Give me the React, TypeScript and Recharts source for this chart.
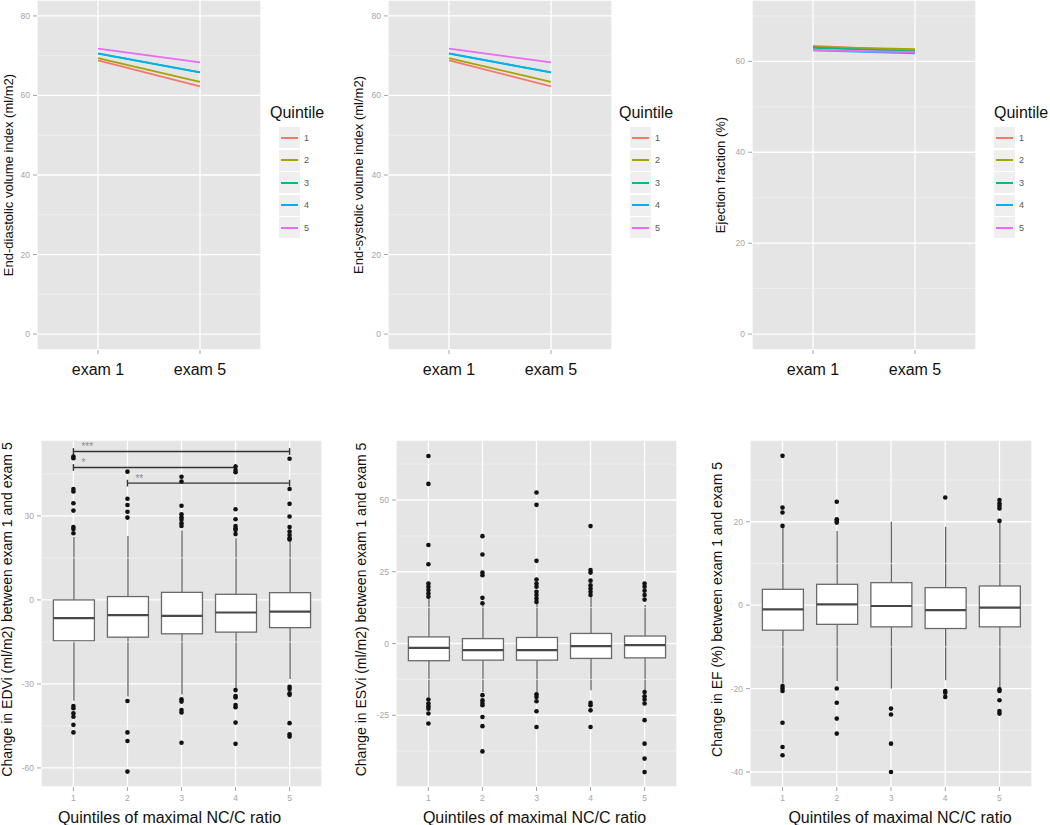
import React from 'react';
import {
  LineChart, Line, XAxis, YAxis, CartesianGrid, ReferenceLine, Legend,
  ComposedChart, Bar, Scatter,
} from 'recharts';

const FONT = '"Liberation Sans", Arial, Helvetica, sans-serif';

// ---------- shared categories ----------
const quintiles = ['1', '2', '3', '4', '5'];
const quintileColors = ['#F8766D', '#A3A500', '#00BF7D', '#00B0F6', '#E76BF3'];
const exams = ['exam 1', 'exam 5'];

// ---------- top row: mean values by quintile ----------
const edviExam1 = [68.8, 69.4, 70.5, 70.6, 71.8];
const edviExam5 = [62.3, 63.4, 65.8, 65.8, 68.3];
const esviExam1 = [68.8, 69.4, 70.5, 70.6, 71.8];
const esviExam5 = [62.3, 63.4, 65.8, 65.8, 68.3];
const efExam1 = [63.4, 63.2, 63.0, 62.4, 62.5];
const efExam5 = [62.35, 62.7, 62.2, 61.75, 62.0];

const volTicks = [0, 20, 40, 60, 80];
const volMinor = [10, 30, 50, 70];
const efTicks = [0, 20, 40, 60];
const efMinor = [10, 30, 50, 70];

// ---------- bottom row: box plot statistics ----------
const edviLo = [-36.0, -34.5, -33.8, -31.5, -28.2];
const edviQ1 = [-14.6, -13.3, -12.1, -11.5, -9.9];
const edviMed = [-6.5, -5.4, -5.7, -4.5, -4.2];
const edviQ3 = [0.0, 1.2, 2.7, 2.0, 2.6];
const edviHi = [22.5, 22.8, 24.8, 22.0, 21.2];
const edviOutliers = [
  [51.2, 50.6, 39.6, 38.7, 34.5, 31.9, 26.0, 25.3, 23.8, -37.9, -38.7, -40.5, -41.7, -44.6, -47.3],
  [45.8, 36.1, 33.9, 31.5, 29.4, -36.1, -47.3, -50.4, -61.3],
  [44.0, 42.3, 33.6, 30.6, 29.5, 28.6, 27.4, 26.4, -35.5, -36.3, -39.3, -40.2, -51.0],
  [47.6, 46.4, 45.6, 32.4, 28.8, 26.4, 25.6, 25.0, 23.5, -32.2, -34.3, -34.8, -37.5, -38.3, -43.8, -51.4],
  [50.4, 39.6, 34.3, 29.8, 26.0, 24.4, 23.2, 22.0, 21.6, -31.0, -31.8, -33.3, -33.9, -44.0, -48.0, -48.8],
];
const edviTicks = [-60, -30, 0, 30];
const edviMinor = [-45, -15, 15, 45];

const bracketFrom = [1, 1, 2];
const bracketTo = [5, 4, 5];
const bracketY = [53.0, 47.3, 41.7];
const bracketLabels = ['***', '*', '**'];

const esviLo = [-18.6, -16.9, -16.9, -16.3, -16.3];
const esviQ1 = [-6.0, -5.8, -5.8, -5.2, -5.0];
const esviMed = [-1.5, -2.3, -2.3, -0.9, -0.6];
const esviQ3 = [2.3, 1.7, 2.1, 3.5, 2.6];
const esviHi = [15.5, 13.4, 14.0, 16.5, 13.4];
const esviOutliers = [
  [65.3, 55.6, 34.3, 27.6, 20.9, 19.8, 18.6, 17.4, 16.3, -19.5, -20.9, -21.9, -22.7, -24.4, -27.9],
  [37.4, 31.0, 24.7, 23.8, 15.9, 14.0, -18.0, -19.8, -20.7, -21.5, -25.6, -28.8, -37.6],
  [52.6, 48.3, 28.8, 22.3, 20.9, 19.8, 18.0, 16.9, 15.7, 14.5, -17.7, -18.6, -20.1, -23.6, -29.1],
  [40.9, 25.6, 24.7, 21.9, 20.3, 19.2, 18.0, 16.9, -20.7, -21.5, -23.3, -29.1],
  [20.9, 19.8, 18.4, 16.9, 15.3, -16.9, -18.4, -19.5, -20.9, -26.7, -34.9, -40.1, -44.8],
];
const esviTicks = [-25, 0, 25, 50];
const esviMinor = [-37.5, -12.5, 12.5, 37.5, 62.5];

const efLo = [-18.8, -18.2, -20.0, -18.0, -20.0];
const efQ1 = [-6.0, -4.6, -5.2, -5.6, -5.2];
const efMed = [-1.0, 0.2, -0.2, -1.2, -0.6];
const efQ3 = [3.8, 5.0, 5.4, 4.2, 4.6];
const efHi = [18.5, 17.8, 20.0, 18.8, 20.0];
const efOutliers = [
  [35.8, 23.4, 22.2, 19.0, -19.4, -20.0, -20.6, -28.2, -34.0, -36.0],
  [24.8, 20.6, 20.2, 19.8, -20.0, -23.4, -27.2, -30.8],
  [-24.8, -26.2, -33.2, -40.0],
  [25.8, -20.6, -21.0, -22.0],
  [25.2, 24.4, 23.8, 23.2, 20.2, -20.2, -20.6, -22.8, -25.4, -26.0],
];
const efBoxTicks = [-40, -20, 0, 20];
const efBoxMinor = [-30, -10, 10, 30];

// ---------- helpers to build tables ----------
function lineRows(e1: number[], e5: number[]) {
  return exams.map((exam, k) => {
    const row: any = { exam };
    quintiles.forEach((q, i) => {
      row['q' + q] = (k === 0 ? e1 : e5)[i];
    });
    return row;
  });
}
function boxRows(lo: number[], q1: number[], med: number[], q3: number[], hi: number[]) {
  return quintiles.map((q, i) => ({ q: Number(q), lo: lo[i], q1: q1[i], med: med[i], q3: q3[i], hi: hi[i] }));
}
function outlierRows(out: number[][]) {
  const rows: any[] = [];
  out.forEach((arr, i) => arr.forEach((v) => rows.push({ q: Number(quintiles[i]), v })));
  return rows;
}

// ---------- styles ----------
const PANEL_BG = '#E5E5E5';
const MINOR = '#F2F2F2';
const TICK_GREY = '#a6a6a6';

function YLabel(props: any) {
  const { viewBox, text, dx, dy = 0, size } = props;
  if (!viewBox) return null;
  const cx = viewBox.x + dx;
  const cy = viewBox.y + viewBox.height / 2 + dy;
  return (
    <text x={cx} y={cy} transform={`rotate(-90 ${cx} ${cy})`} textAnchor="middle"
      dominantBaseline="central" fontSize={size} fill="#111" fontFamily={FONT}>{text}</text>
  );
}
function XLabel(props: any) {
  const { viewBox, text, dx = 0, baseline, size } = props;
  if (!viewBox) return null;
  return (
    <text x={viewBox.x + viewBox.width / 2 + dx} y={viewBox.y + baseline} textAnchor="middle"
      fontSize={size} fill="#111" fontFamily={FONT}>{text}</text>
  );
}
function BracketLabel(props: any) {
  const { viewBox, text } = props;
  if (!viewBox) return null;
  return (
    <text x={viewBox.x + 8} y={viewBox.y - 1.5} fontSize={10} fill="#8a8a8a" fontFamily={FONT}>{text}</text>
  );
}

function QuintileLegend({ indent }: { indent: number }) {
  return (
    <div style={{ fontFamily: FONT }}>
      <div style={{ fontSize: 16, lineHeight: '18px', color: '#111', marginBottom: 5, whiteSpace: 'nowrap' }}>Quintile</div>
      {quintiles.map((q, i) => (
        <div key={q} style={{ display: 'flex', alignItems: 'center', height: 21, marginBottom: 1.5, marginLeft: indent }}>
          <div style={{ width: 21, height: 21, background: '#EFEFEF', position: 'relative' }}>
            <div style={{ position: 'absolute', left: 2, right: 2, top: 9.5, height: 2, background: quintileColors[i] }} />
          </div>
          <span style={{ fontSize: 9, color: '#555', marginLeft: 4 }}>{q}</span>
        </div>
      ))}
    </div>
  );
}

function BoxShape(props: any) {
  const { x, y, width, height, payload } = props;
  if (!payload || x == null || y == null) return null;
  const top = Math.min(y, y + height);
  const h = Math.abs(height);
  const span = payload.hi - payload.lo;
  const toPx = (v: number) => top + (h * (payload.hi - v)) / span;
  const cx = x + width / 2;
  const yQ3 = toPx(payload.q3);
  const yQ1 = toPx(payload.q1);
  const yMed = toPx(payload.med);
  return (
    <g>
      <line x1={cx} x2={cx} y1={toPx(payload.hi)} y2={toPx(payload.lo)} stroke="#666" strokeWidth={1.3} />
      <rect x={x} y={yQ3} width={width} height={yQ1 - yQ3} fill="#fff" stroke="#6a6a6a" strokeWidth={1.3} />
      <line x1={x} x2={x + width} y1={yMed} y2={yMed} stroke="#484848" strokeWidth={2.2} />
    </g>
  );
}

function OutlierDot(props: any) {
  const { cx, cy } = props;
  if (cx == null || cy == null) return null;
  return <circle cx={cx} cy={cy} r={2.3} fill="#111" />;
}

// ---------- top panel ----------
function TopPanel(p: {
  left: number; width: number; yAxisWidth: number; rightMargin: number;
  e1: number[]; e5: number[]; domain: [number, number]; ticks: number[]; minor: number[];
  yLabel: string; yLabelDx: number; legendLeft: number; legendIndent: number;
}) {
  const data = lineRows(p.e1, p.e5);
  return (
    <div style={{ position: 'absolute', left: p.left, top: 0 }}>
      <LineChart width={p.width} height={400} data={data}
        margin={{ top: 0, right: p.rightMargin, bottom: 0, left: 0 }}>
        <CartesianGrid fill={PANEL_BG} stroke="#fff" strokeWidth={1.3} />
        {p.minor.map((m) => (
          <ReferenceLine key={'m' + m} y={m} stroke={MINOR} strokeWidth={0.8} />
        ))}
        <XAxis dataKey="exam" type="category" scale="point" padding={{ left: 61, right: 61 }}
          height={50} axisLine={false} tickSize={4} tickMargin={10}
          tickLine={{ stroke: TICK_GREY }}
          tick={{ fontSize: 16, fill: '#111', fontFamily: FONT }} />
        <YAxis type="number" domain={p.domain} ticks={p.ticks} allowDataOverflow width={p.yAxisWidth}
          axisLine={false} tickSize={4} tickMargin={3} tickLine={{ stroke: TICK_GREY }}
          tick={{ fontSize: 8.5, fill: TICK_GREY, fontFamily: FONT }}
          label={<YLabel text={p.yLabel} dx={p.yLabelDx} size={13} />} />
        {quintiles.map((q, i) => (
          <Line key={q} dataKey={'q' + q} name={q} stroke={quintileColors[i]} strokeWidth={1.8}
            dot={false} isAnimationActive={false} />
        ))}
        <Legend layout="vertical" align="center" verticalAlign="middle"
          wrapperStyle={{ left: p.legendLeft, top: 104, width: 80, height: 'auto' }}
          content={() => <QuintileLegend indent={p.legendIndent} />} />
      </LineChart>
    </div>
  );
}

// ---------- bottom panel ----------
function BoxPanel(p: {
  left: number; width: number; yAxisWidth: number; rightMargin: number;
  rows: any[]; outliers: any[]; domain: [number, number]; ticks: number[]; minor: number[];
  yLabel: string; yLabelDx: number; xLabelDx: number; brackets?: boolean;
}) {
  return (
    <div style={{ position: 'absolute', left: p.left, top: 420 }}>
      <ComposedChart width={p.width} height={405} data={p.rows}
        margin={{ top: 20, right: p.rightMargin, bottom: 0, left: 0 }}>
        <CartesianGrid fill={PANEL_BG} stroke="#fff" strokeWidth={1.3} />
        {p.minor.map((m) => (
          <ReferenceLine key={'m' + m} y={m} stroke={MINOR} strokeWidth={0.8} />
        ))}
        <XAxis dataKey="q" type="category" scale="band" allowDuplicatedCategory={false}
          padding={{ left: 5.4, right: 5.4 }} height={38} axisLine={false} tickSize={4} tickMargin={4}
          tickLine={{ stroke: TICK_GREY }}
          tick={{ fontSize: 8.5, fill: TICK_GREY, fontFamily: FONT }}
          label={<XLabel text="Quintiles of maximal NC/C ratio" baseline={36} dx={p.xLabelDx} size={16} />} />
        <YAxis type="number" domain={p.domain} ticks={p.ticks} allowDataOverflow width={p.yAxisWidth}
          axisLine={false} tickSize={4} tickMargin={3} tickLine={{ stroke: TICK_GREY }}
          tick={{ fontSize: 8.5, fill: TICK_GREY, fontFamily: FONT }}
          label={<YLabel text={p.yLabel} dx={p.yLabelDx} dy={-4} size={14} />} />
        <Bar dataKey={(d: any) => [d.lo, d.hi]} barSize={41} shape={<BoxShape />} isAnimationActive={false} />
        <Scatter data={p.outliers} dataKey="v" shape={<OutlierDot />} isAnimationActive={false} />
        {p.brackets && bracketY.map((by, i) => (
          <ReferenceLine key={'b' + i} segment={[{ x: bracketFrom[i], y: by }, { x: bracketTo[i], y: by }]}
            stroke="#333" strokeWidth={1.4} label={<BracketLabel text={bracketLabels[i]} />} />
        ))}
        {p.brackets && bracketY.map((by, i) => (
          <ReferenceLine key={'bl' + i} segment={[{ x: bracketFrom[i], y: by - 1.2 }, { x: bracketFrom[i], y: by + 1.2 }]}
            stroke="#333" strokeWidth={1.4} />
        ))}
        {p.brackets && bracketY.map((by, i) => (
          <ReferenceLine key={'br' + i} segment={[{ x: bracketTo[i], y: by - 1.2 }, { x: bracketTo[i], y: by + 1.2 }]}
            stroke="#333" strokeWidth={1.4} />
        ))}
      </ComposedChart>
    </div>
  );
}

export default function App() {
  return (
    <div style={{ position: 'absolute', left: 0, top: 0, width: 1050, height: 825, background: '#fff', fontFamily: FONT, overflow: 'hidden' }}>
      <TopPanel left={0} width={350} yAxisWidth={37} rightMargin={89}
        e1={edviExam1} e5={edviExam5} domain={[-4, 84]} ticks={volTicks} minor={volMinor}
        yLabel="End-diastolic volume index (ml/m2)" yLabelDx={8} legendLeft={270} legendIndent={9} />
      <TopPanel left={350} width={340} yAxisWidth={38} rightMargin={78}
        e1={esviExam1} e5={esviExam5} domain={[-4, 84]} ticks={volTicks} minor={volMinor}
        yLabel="End-systolic volume index (ml/m2)" yLabelDx={8} legendLeft={269} legendIndent={11} />
      <TopPanel left={690} width={360} yAxisWidth={62} rightMargin={74}
        e1={efExam1} e5={efExam5} domain={[-3.5, 73.5]} ticks={efTicks} minor={efMinor}
        yLabel="Ejection fraction (%)" yLabelDx={30} legendLeft={304} legendIndent={0} />

      <BoxPanel left={0} width={345} yAxisWidth={41} rightMargin={23}
        rows={boxRows(edviLo, edviQ1, edviMed, edviQ3, edviHi)} outliers={outlierRows(edviOutliers)}
        domain={[-66.8, 57.1]} ticks={edviTicks} minor={edviMinor}
        yLabel="Change in EDVi (ml/m2) between exam 1 and exam 5" yLabelDx={7} xLabelDx={-12} brackets />
      <BoxPanel left={350} width={345} yAxisWidth={46} rightMargin={18}
        rows={boxRows(esviLo, esviQ1, esviMed, esviQ3, esviHi)} outliers={outlierRows(esviOutliers)}
        domain={[-50, 70.9]} ticks={esviTicks} minor={esviMinor}
        yLabel="Change in ESVi (ml/m2) between exam 1 and exam 5" yLabelDx={11} xLabelDx={-2} />
      <BoxPanel left={690} width={360} yAxisWidth={60} rightMargin={18}
        rows={boxRows(efLo, efQ1, efMed, efQ3, efHi)} outliers={outlierRows(efOutliers)}
        domain={[-43.6, 39.6]} ticks={efBoxTicks} minor={efBoxMinor}
        yLabel="Change in EF (%) between exam 1 and exam 5" yLabelDx={27} xLabelDx={9} />
    </div>
  );
}
